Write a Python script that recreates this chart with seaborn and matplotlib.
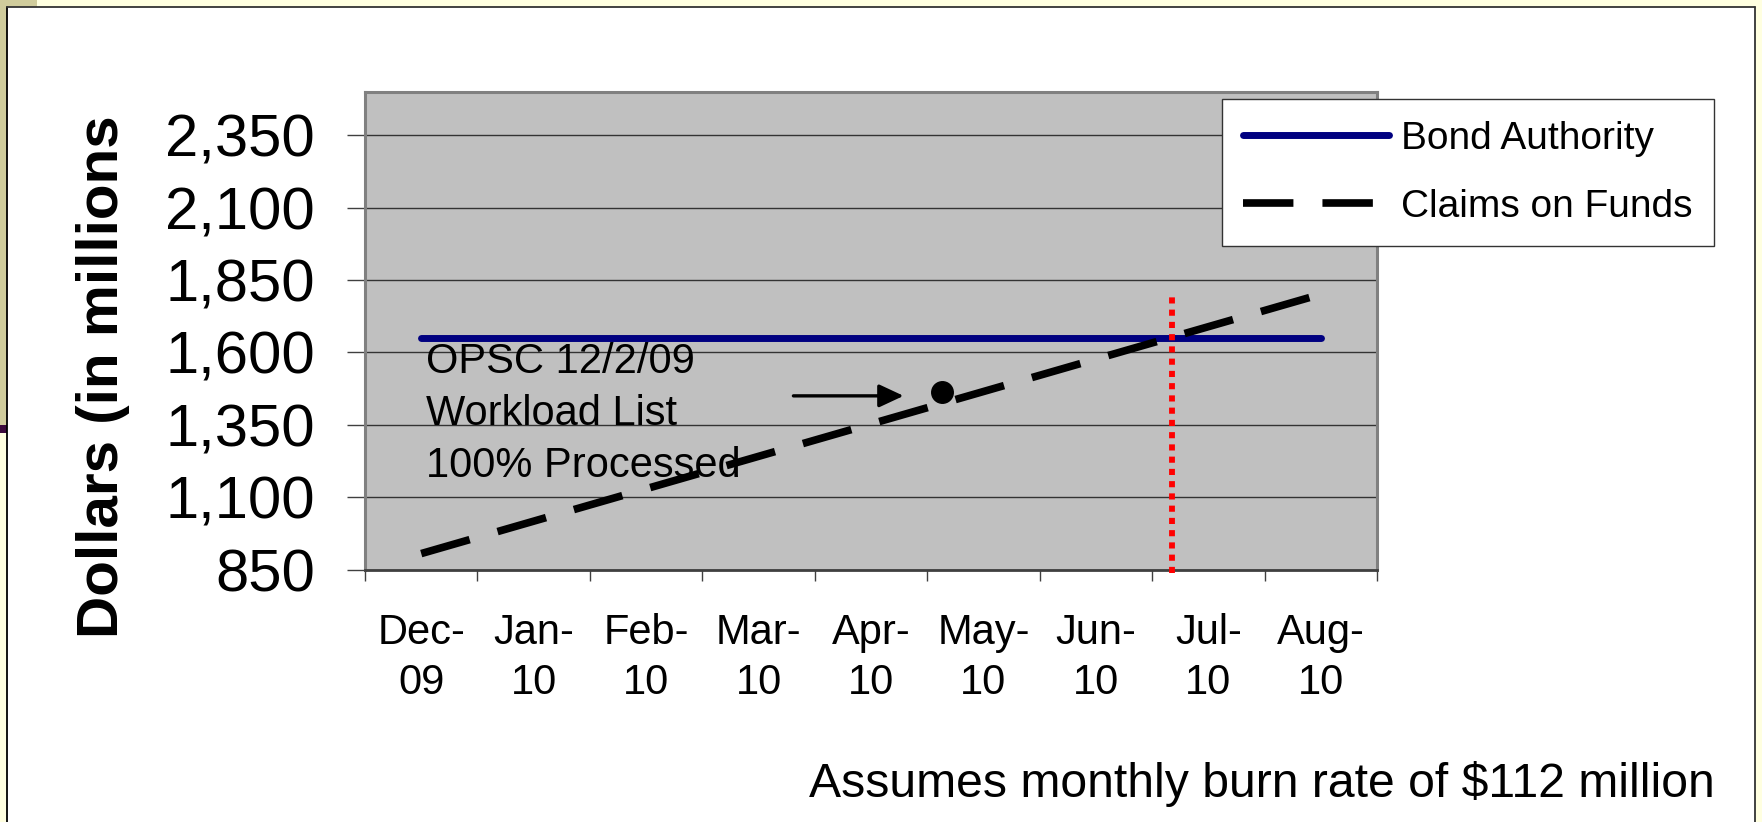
import numpy as np
import pandas as pd
import matplotlib
matplotlib.use("Agg")
import matplotlib.pyplot as plt
import seaborn as sns
from matplotlib.patches import Rectangle
from matplotlib.lines import Line2D

# ---------------- data ----------------
months = ["Dec-\n09", "Jan-\n10", "Feb-\n10", "Mar-\n10", "Apr-\n10",
          "May-\n10", "Jun-\n10", "Jul-\n10", "Aug-\n10"]
bond_authority = [1650, 1650, 1650, 1650, 1650, 1650, 1650, 1650, 1650]
claims_on_funds = [905, 1017, 1129, 1241, 1353, 1465, 1577, 1689, 1801]
y_ticks = [850, 1100, 1350, 1600, 1850, 2100, 2350]
series_names = ["Bond Authority", "Claims on Funds"]

workload_dot = (4.63, 1464)          # OPSC workload-list marker
arrow_x = (3.31, 4.29)
arrow_y = 1450
crossing_x = 6.68                    # red dotted marker where claims exceed authority
crossing_y = (838, 1805)
note_text = "OPSC 12/2/09\nWorkload List\n100% Processed"
footnote = r"Assumes monthly burn rate of \$112 million"
y_label = "Dollars (in millions"

# ---------------- style ----------------
sns.set_style("white")
plt.rcParams["font.family"] = ["Liberation Sans", "DejaVu Sans"]
plt.rcParams["text.color"] = "black"
plt.rcParams["xtick.labelcolor"] = "black"
plt.rcParams["ytick.labelcolor"] = "black"

W, H = 1762, 822
fig = plt.figure(figsize=(W / 100, H / 100), dpi=100)
fig.patch.set_facecolor("#FFFFE0")


def frac_rect(x, y, w, h, **kw):
    r = Rectangle((x / W, 1 - (y + h) / H), w / W, h / H,
                  transform=fig.transFigure, **kw)
    fig.add_artist(r)
    return r


def frac_line(x0, y0, x1, y1, **kw):
    fig.add_artist(Line2D([x0 / W, x1 / W], [1 - y0 / H, 1 - y1 / H],
                          transform=fig.transFigure, **kw))


# slide decoration
frac_rect(0, 0, 37, 7, facecolor="#D0CC9C", edgecolor="none", zorder=-5)
frac_rect(0, 0, 7, 425, facecolor="#D0CC9C", edgecolor="none", zorder=-5)
frac_rect(0, 425, 7, 8, facecolor="#3C0A3C", edgecolor="none", zorder=-5)
frac_rect(7, 7, 1748, 830, facecolor="white", edgecolor="none", zorder=-5)
frac_line(7, 7, 7, 822, color="black", lw=1.3, zorder=-4)
frac_line(7, 7, 1755, 7, color="#333333", lw=1.3, zorder=-4)
frac_line(1755, 7, 1755, 822, color="#333333", lw=1.3, zorder=-4)

ax = fig.add_axes([365 / W, 1 - 569.5 / H, (1377 - 365) / W, (569.5 - 92) / H])
ax.set_facecolor("#C0C0C0")

x = np.arange(len(months))
df = pd.DataFrame({"x": x, series_names[0]: bond_authority,
                   series_names[1]: claims_on_funds})

sns.lineplot(data=df, x="x", y=series_names[0], ax=ax, color="#000080",
             lw=5, solid_capstyle="round", zorder=3)
sns.lineplot(data=df, x="x", y=series_names[1], ax=ax, color="black",
             lw=5.5, zorder=4)
ax.lines[-1].set_linestyle((0, (6.6, 3.8)))
ax.lines[-1].set_dash_capstyle("butt")

# annotation marker, arrow, red dotted line
ax.plot([workload_dot[0]], [workload_dot[1]], marker="o", ms=15.5,
        color="black", zorder=6, lw=0)
ax.annotate("", xy=(arrow_x[1], arrow_y), xytext=(arrow_x[0], arrow_y),
            arrowprops=dict(arrowstyle="-|>,head_length=0.75,head_width=0.35",
                            mutation_scale=20, lw=2.4, color="black",
                            shrinkA=0, shrinkB=0), zorder=6)
ax.plot([crossing_x, crossing_x], list(crossing_y), color="#FF0000", lw=4.2,
        linestyle=(0, (1.05, 1.05)), zorder=7, clip_on=False)

# va='baseline' anchors the last line's baseline
ax.text(0.04, 1171, note_text, fontsize=30, ha="left", va="baseline",
        linespacing=1.38, zorder=5, color="black")

# axes
ax.set_xlim(-0.5, len(months) - 0.5)
ax.set_ylim(850, 2500)
ax.set_yticks(y_ticks)
ax.set_yticklabels([f"{v:,}" for v in y_ticks])
ax.set_xticks(np.arange(-0.5, len(months), 1))
ax.set_xticklabels([])
ax.set_xticks(x, minor=True)
ax.set_xticklabels(months, minor=True)
for lbl in ax.get_xticklabels(minor=True):
    lbl.set_linespacing(1.35)
ax.tick_params(axis="y", direction="out", length=13, width=1, color="#404040",
               pad=23, labelsize=43, left=True, labelcolor="black")
ax.tick_params(axis="x", which="major", direction="out", length=8, width=1,
               color="#404040", bottom=True)
ax.tick_params(axis="x", which="minor", length=0, pad=31, labelsize=30,
               labelcolor="black")
ax.set_xlabel("")
ax.set_ylabel("")
ax.yaxis.grid(True, color="#333333", lw=1)
ax.xaxis.grid(False)
ax.set_axisbelow(True)
for s in ["left", "top", "right"]:
    ax.spines[s].set_color("#808080")
    ax.spines[s].set_linewidth(2.2)
    ax.spines[s].set_visible(True)
ax.spines["bottom"].set_color("#404040")
ax.spines["bottom"].set_linewidth(2)

# legend
handles = [Line2D([], [], color="#000080", lw=5, solid_capstyle="round"),
           Line2D([], [], color="black", lw=5.5, linestyle=(0, (6.6, 3.8)))]
if ax.get_legend() is not None:
    ax.get_legend().remove()
leg = ax.legend(handles, series_names, loc="upper left",
                bbox_to_anchor=(1222 / W, 1 - 99.5 / H),
                bbox_transform=fig.transFigure, frameon=True, fancybox=False,
                edgecolor="#333333", framealpha=1, facecolor="white",
                fontsize=28, handlelength=3.75, handletextpad=0.3,
                borderpad=0.55, labelspacing=0.82, borderaxespad=0)
leg.get_frame().set_linewidth(1.0)
leg.set_zorder(10)
for t in leg.get_texts():
    t.set_color("black")

fig.text(118 / W, 1 - 376.5 / H, y_label, rotation=90, rotation_mode="anchor",
         ha="center", va="baseline", fontsize=42, fontweight="bold",
         color="black")
fig.text(809 / W, 1 - 796.7 / H, footnote, fontsize=34.7, ha="left",
         va="baseline", color="black")

fig.savefig("out.png", dpi=100, facecolor=fig.get_facecolor())
